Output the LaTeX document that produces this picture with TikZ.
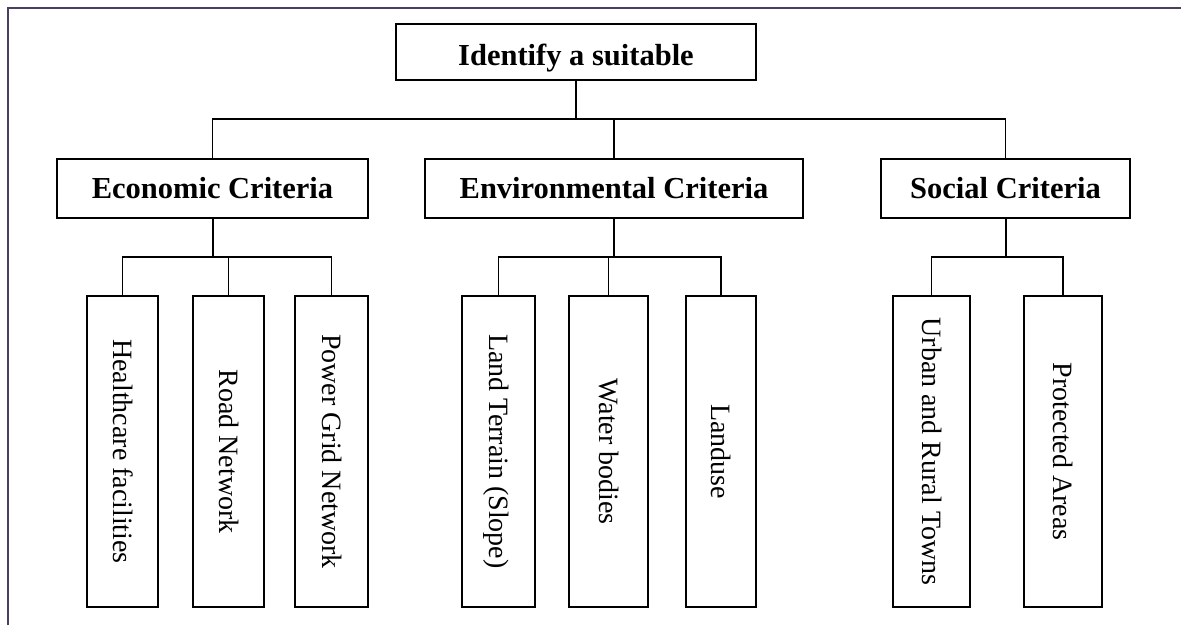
\documentclass[tikz,border=0pt]{standalone}
\usepackage{fontspec}
\setmainfont{Liberation Serif}
\definecolor{framecol}{RGB}{74,63,94}
\begin{document}
\begin{tikzpicture}[x=1pt,y=-1pt,
  box/.style={draw=black, line width=1.3pt, inner sep=0pt, fill=white},
  head/.style={box, font=\fontsize{30.5}{34}\selectfont\bfseries, text height=20pt, text depth=0pt},
  leaf/.style={box, rotate=-90, minimum width=311pt, font=\fontsize{28}{32}\selectfont, text height=19pt, text depth=0pt},
  conn/.style={line width=1.3pt},
  stem/.style={line width=2pt}]
\useasboundingbox (0,0) rectangle (1181,625);
% frame
\draw[framecol, line width=2.5pt] (8,625) -- (8,8) -- (1181,8);

% top
\node[head, minimum width=360pt, minimum height=56pt, text height=26pt] (top) at (576,52) {Identify a suitable};

% categories
\node[head, minimum width=311pt, minimum height=59pt] (econ) at (212.5,188.5) {Economic Criteria};
\node[head, minimum width=378pt, minimum height=59pt] (env) at (614,188.5) {Environmental Criteria};
\node[head, minimum width=249pt, minimum height=59pt] (soc) at (1005.5,188.5) {Social Criteria};

% leaves
\node[leaf, minimum height=71pt] (h1) at (122.5,451.5) {Healthcare facilities};
\node[leaf, minimum height=71pt] (h2) at (228.5,451.5) {Road Network};
\node[leaf, minimum height=73pt] (h3) at (331.5,451.5) {Power Grid Network};
\node[leaf, minimum height=73pt] (e1) at (498.5,451.5) {Land Terrain (Slope)};
\node[leaf, minimum height=79pt] (e2) at (608.5,451.5) {Water bodies};
\node[leaf, minimum height=70pt] (e3) at (721,451.5) {Landuse};
\node[leaf, minimum height=77pt] (s1) at (931.5,451.5) {Urban and Rural Towns};
\node[leaf, minimum height=78pt] (s2) at (1063,451.5) {Protected Areas};

% connectors top level
\coordinate (bus) at (576,119);
\draw[conn] (top.south) -- (bus);
\draw[conn] (econ.north) |- (bus) -| (soc.north);
\draw[conn] (bus -| env.north) -- (env.north);

% economic
\coordinate (eb) at (212.5,257);
\draw[stem] (econ.south) -- (eb);
\draw[conn] (h1.west) |- (eb) -| (h3.west);
\draw[conn] (eb -| h2.west) -- (h2.west);

% environmental
\coordinate (nb) at (614,257);
\draw[stem] (env.south) -- (nb);
\draw[conn] (e1.west) |- (nb) -| (e3.west);
\draw[conn] (nb -| e2.west) -- (e2.west);

% social
\coordinate (sb) at (1005.5,257);
\draw[stem] (soc.south) -- (sb);
\draw[conn] (s1.west) |- (sb) -| (s2.west);
\end{tikzpicture}
\end{document}
